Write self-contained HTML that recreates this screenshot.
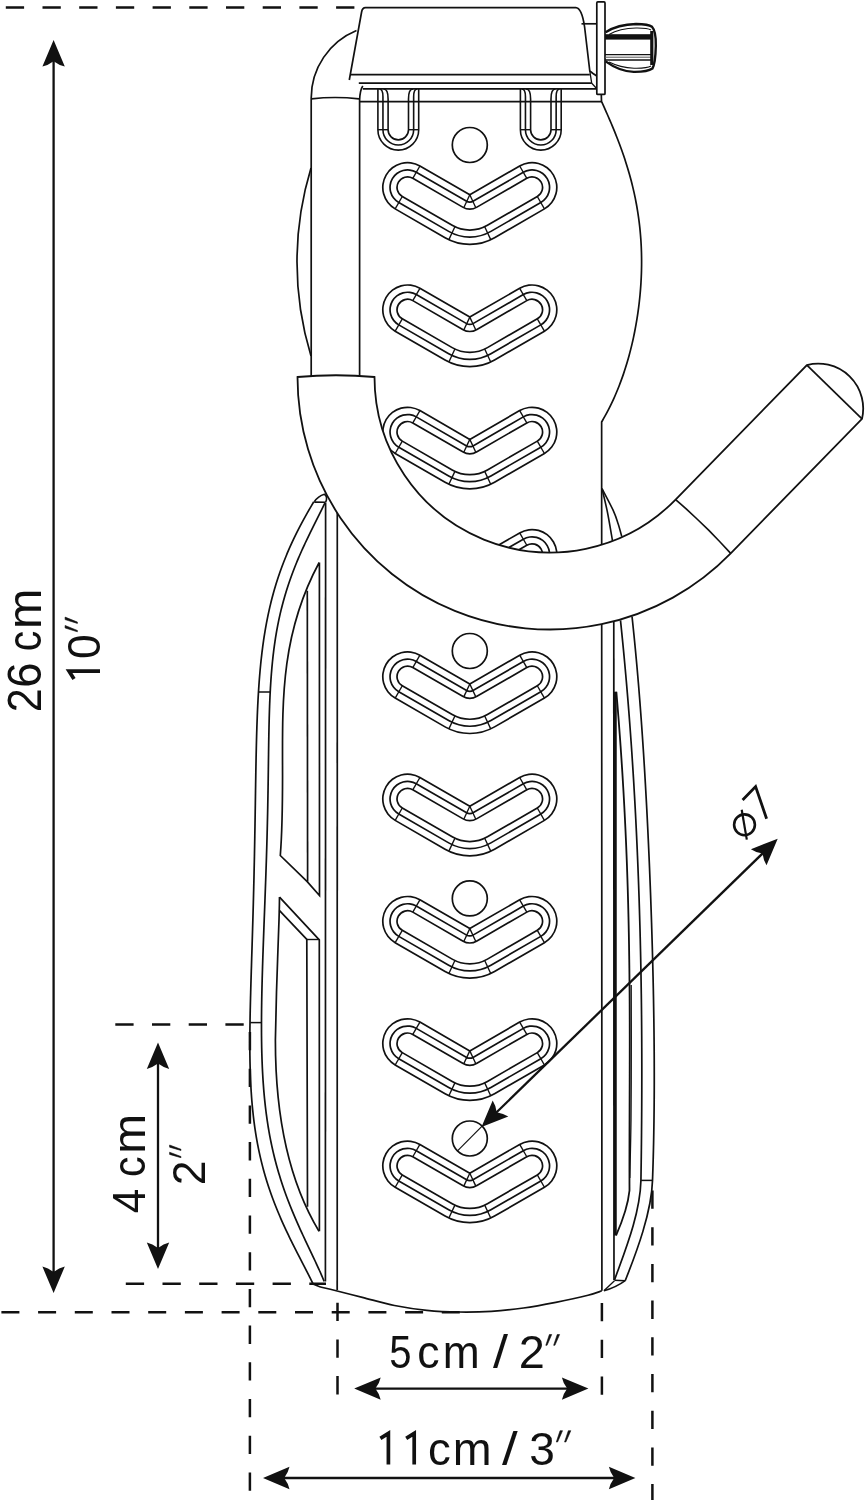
<!DOCTYPE html>
<html><head><meta charset="utf-8"><title>Bike hook dimensions</title>
<style>html,body{margin:0;padding:0;background:#fff;width:868px;height:1500px;overflow:hidden}svg{display:block}</style>
</head><body>
<svg width="868" height="1500" viewBox="0 0 868 1500">
<path d="M5.8 7.4L356 7.4" stroke="#111" stroke-width="2.5" stroke-dasharray="18.3 18.4" stroke-dashoffset="0"/>
<path d="M115.3 1024.4L252 1024.4" stroke="#111" stroke-width="2.5" stroke-dasharray="18.3 18.4" stroke-dashoffset="0"/>
<path d="M125.8 1283.8L326 1283.8" stroke="#111" stroke-width="2.5" stroke-dasharray="18.3 18.4" stroke-dashoffset="0"/>
<path d="M1.4 1312.3L460 1312.3" stroke="#111" stroke-width="2.5" stroke-dasharray="18 18.7" stroke-dashoffset="0"/>
<path d="M249.9 1032L249.9 1500" stroke="#111" stroke-width="2.5" stroke-dasharray="18.3 18.4" stroke-dashoffset="0"/>
<path d="M337.5 1302.7L337.5 1395" stroke="#111" stroke-width="2.5" stroke-dasharray="18.3 18.4" stroke-dashoffset="0"/>
<path d="M601.9 1303L601.9 1400" stroke="#111" stroke-width="2.5" stroke-dasharray="18.3 18.4" stroke-dashoffset="0"/>
<path d="M652.4 1190.5L652.4 1500" stroke="#111" stroke-width="2.5" stroke-dasharray="18.3 18.4" stroke-dashoffset="0"/>
<path d="M311 168 A322.6 322.6 0 0 0 311 356" fill="none" stroke="#111" stroke-width="1.7"/>
<path d="M601.3 94.4 L601.49 101.4 C601.95 102.41 603.33 105.43 604.23 107.45 C605.14 109.47 606.04 111.48 606.93 113.5 C607.82 115.51 608.71 117.53 609.58 119.55 C610.44 121.56 611.3 123.58 612.15 125.6 C612.99 127.61 613.83 129.63 614.64 131.65 C615.46 133.66 616.26 135.68 617.05 137.69 C617.84 139.71 618.61 141.73 619.37 143.74 C620.12 145.76 620.86 147.78 621.58 149.79 C622.3 151.81 623.01 153.83 623.69 155.84 C624.38 157.86 625.05 159.87 625.69 161.89 C626.34 163.91 626.97 165.92 627.58 167.94 C628.19 169.96 628.79 171.97 629.36 173.99 C629.93 176.01 630.48 178.02 631.01 180.04 C631.54 182.05 632.06 184.07 632.55 186.09 C633.04 188.1 633.51 190.12 633.96 192.14 C634.41 194.15 634.84 196.17 635.25 198.18 C635.66 200.2 636.05 202.22 636.42 204.23 C636.79 206.25 637.14 208.27 637.47 210.28 C637.8 212.3 638.11 214.32 638.39 216.33 C638.68 218.35 638.95 220.36 639.2 222.38 C639.45 224.4 639.68 226.41 639.89 228.43 C640.09 230.45 640.28 232.46 640.45 234.48 C640.62 236.5 640.77 238.51 640.91 240.53 C641.04 242.54 641.15 244.56 641.24 246.58 C641.34 248.59 641.41 250.61 641.47 252.63 C641.52 254.64 641.56 256.66 641.58 258.68 C641.6 260.69 641.6 262.71 641.59 264.72 C641.57 266.74 641.53 268.76 641.48 270.77 C641.43 272.79 641.36 274.81 641.27 276.82 C641.19 278.84 641.08 280.86 640.96 282.87 C640.84 284.89 640.7 286.9 640.54 288.92 C640.39 290.94 640.21 292.95 640.02 294.97 C639.83 296.99 639.63 299 639.4 301.02 C639.18 303.04 638.94 305.05 638.68 307.07 C638.42 309.08 638.15 311.1 637.86 313.12 C637.56 315.13 637.26 317.15 636.93 319.17 C636.6 321.18 636.26 323.2 635.9 325.22 C635.54 327.23 635.16 329.25 634.76 331.26 C634.37 333.28 633.95 335.3 633.52 337.31 C633.09 339.33 632.64 341.35 632.17 343.36 C631.7 345.38 631.21 347.39 630.7 349.41 C630.19 351.43 629.66 353.44 629.11 355.46 C628.56 357.48 628 359.49 627.4 361.51 C626.81 363.53 626.2 365.54 625.56 367.56 C624.93 369.57 624.27 371.59 623.59 373.61 C622.9 375.62 622.2 377.64 621.46 379.66 C620.73 381.67 619.97 383.69 619.19 385.71 C618.4 387.72 617.59 389.74 616.74 391.75 C615.9 393.77 615.03 395.79 614.13 397.8 C613.22 399.82 612.29 401.84 611.32 403.85 C610.35 405.87 609.35 407.89 608.32 409.9 C607.28 411.92 606.21 413.93 605.09 415.95 C603.98 417.97 602.21 420.99 601.64 422 L601.9 1290.8" fill="none" stroke="#111" stroke-width="1.7"/>
<path d="M356.5 30.5 A73.1 73.1 0 0 0 311.2 98 L311.2 377" fill="none" stroke="#111" stroke-width="1.7"/>
<path d="M359.6 100 L359.6 377" fill="none" stroke="#111" stroke-width="1.7"/>
<path d="M362.8 86 Q360 90 359.6 100" fill="none" stroke="#111" stroke-width="1.7"/>
<path d="M311.5 98.8 Q335 96.2 359 98.8" fill="none" stroke="#111" stroke-width="1.7"/>
<path d="M349.3 80 L361.6 12 Q362.4 7.6 365.5 7.6 L575.8 7.6 C580.5 7.8 583 16 584.6 27 L589.8 71 L593 73.5 L596.8 76" fill="none" stroke="#111" stroke-width="1.7"/>
<path d="M350.3 74.6 L589.8 74.6" fill="none" stroke="#111" stroke-width="1.7"/>
<path d="M358.8 83.1 L591.7 83.1" fill="none" stroke="#111" stroke-width="1.7"/>
<path d="M362.8 88.8 L596.8 88.8" fill="none" stroke="#111" stroke-width="1.7"/>
<path d="M360 101.7 L601.8 101.7" fill="none" stroke="#111" stroke-width="1.7"/>
<path d="M589.8 71 L591.7 83.1 L596.8 88.8" fill="none" stroke="#111" stroke-width="1.3"/>
<path d="M581.5 23.8 L596.8 23.8" fill="none" stroke="#111" stroke-width="1.7"/>
<rect x="596.8" y="1.9" width="8.2" height="92.5" rx="1" fill="#fff" stroke="#111" stroke-width="1.7"/>
<path d="M605.6 32.2 C613 27.5 623 24.3 636 24 C644 24 649.5 24.8 652 26.8 C655 30 656 38 655.8 46 C655.6 56 655 64 652.4 68.6 C649 71 642 72 633.7 71.9 C622 71.5 612 66 605.6 61.4" fill="none" stroke="#111" stroke-width="2.4"/>
<path d="M609 34.5 C616 30.5 625 28.3 636 28 C644 27.9 648.5 28.4 651 30" fill="none" stroke="#111" stroke-width="1.1"/>
<path d="M609 62 C616 65.5 625 67.8 634 68.2 C643 68.4 648 67.8 651 66" fill="none" stroke="#111" stroke-width="1.1"/>
<rect x="605" y="34.2" width="46.5" height="5.4" fill="#111"/>
<path d="M605 54.7 L651 54.7" fill="none" stroke="#111" stroke-width="1.3"/>
<path d="M605 57.2 L651 57.2" fill="none" stroke="#555" stroke-width="1"/>
<path d="M605 60 L651 60" fill="none" stroke="#111" stroke-width="1.3"/>
<rect x="650.2" y="31" width="3.2" height="34" fill="#111"/>
<path d="M377.9 89 L377.9 129.7 A20.4 20.4 0 0 0 418.7 129.7 L418.7 89" fill="none" stroke="#111" stroke-width="1.6"/>
<path d="M379.45 89 Q382.95 89 382.95 96.7 L382.95 129.7 A15.35 15.35 0 0 0 413.65 129.7 L413.65 96.7 Q413.65 89 417.15 89" fill="none" stroke="#111" stroke-width="1.6"/>
<path d="M383.6 89 Q388.1 89 388.1 98.9 L388.1 129.7 A10.2 10.2 0 0 0 408.5 129.7 L408.5 98.9 Q408.5 89 413 89" fill="none" stroke="#111" stroke-width="1.6"/>
<path d="M377.9 129.7L388.1 129.7" stroke="#111" stroke-width="1.4"/>
<path d="M408.5 129.7L418.7 129.7" stroke="#111" stroke-width="1.4"/>
<path d="M520.4 89 L520.4 129.7 A20.4 20.4 0 0 0 561.2 129.7 L561.2 89" fill="none" stroke="#111" stroke-width="1.6"/>
<path d="M521.95 89 Q525.45 89 525.45 96.7 L525.45 129.7 A15.35 15.35 0 0 0 556.15 129.7 L556.15 96.7 Q556.15 89 559.65 89" fill="none" stroke="#111" stroke-width="1.6"/>
<path d="M526.1 89 Q530.6 89 530.6 98.9 L530.6 129.7 A10.2 10.2 0 0 0 551 129.7 L551 98.9 Q551 89 555.5 89" fill="none" stroke="#111" stroke-width="1.6"/>
<path d="M520.4 129.7L530.6 129.7" stroke="#111" stroke-width="1.4"/>
<path d="M551 129.7L561.2 129.7" stroke="#111" stroke-width="1.4"/>
<circle cx="469.8" cy="145" r="17.5" fill="#fff" stroke="#111" stroke-width="1.7"/>
<circle cx="469.8" cy="651" r="17.5" fill="#fff" stroke="#111" stroke-width="1.7"/>
<circle cx="469.8" cy="898.4" r="17.5" fill="#fff" stroke="#111" stroke-width="1.7"/>
<circle cx="469.8" cy="1138.5" r="17.5" fill="#fff" stroke="#111" stroke-width="1.7"/>
<path d="M457.5 1150.8L482.1 1126.2" stroke="#111" stroke-width="1.2"/>
<path d="M407.54 187.43 L457.43 216.23 A24.75 24.75 0 0 0 482.18 216.23 L532.06 187.43" fill="none" stroke="#111" stroke-width="51.2" stroke-linecap="round"/>
<path d="M407.54 187.43 L457.43 216.23 A24.75 24.75 0 0 0 482.18 216.23 L532.06 187.43" fill="none" stroke="#fff" stroke-width="47.8" stroke-linecap="round"/>
<path d="M407.54 187.43 L457.43 216.23 A24.75 24.75 0 0 0 482.18 216.23 L532.06 187.43" fill="none" stroke="#111" stroke-width="36.7" stroke-linecap="round"/>
<path d="M407.54 187.43 L457.43 216.23 A24.75 24.75 0 0 0 482.18 216.23 L532.06 187.43" fill="none" stroke="#fff" stroke-width="33.3" stroke-linecap="round"/>
<path d="M407.54 187.43 L457.43 216.23 A24.75 24.75 0 0 0 482.18 216.23 L532.06 187.43" fill="none" stroke="#111" stroke-width="22.7" stroke-linecap="round"/>
<path d="M407.54 187.43 L457.43 216.23 A24.75 24.75 0 0 0 482.18 216.23 L532.06 187.43" fill="none" stroke="#fff" stroke-width="19.3" stroke-linecap="round"/>
<path d="M412.79 178.34L419.92 166" stroke="#111" stroke-width="1.35"/>
<path d="M402.29 196.53L395.17 208.87" stroke="#111" stroke-width="1.35"/>
<path d="M526.81 178.34L519.68 166" stroke="#111" stroke-width="1.35"/>
<path d="M537.31 196.53L544.43 208.87" stroke="#111" stroke-width="1.35"/>
<path d="M454.9 226.75L448.88 239.66" stroke="#111" stroke-width="1.35"/>
<path d="M469.8 194.8L463.78 207.71" stroke="#111" stroke-width="1.35"/>
<path d="M484.7 226.75L490.72 239.66" stroke="#111" stroke-width="1.35"/>
<path d="M469.8 194.8L475.82 207.71" stroke="#111" stroke-width="1.35"/>
<path d="M407.54 309.73 L457.43 338.53 A24.75 24.75 0 0 0 482.18 338.53 L532.06 309.73" fill="none" stroke="#111" stroke-width="51.2" stroke-linecap="round"/>
<path d="M407.54 309.73 L457.43 338.53 A24.75 24.75 0 0 0 482.18 338.53 L532.06 309.73" fill="none" stroke="#fff" stroke-width="47.8" stroke-linecap="round"/>
<path d="M407.54 309.73 L457.43 338.53 A24.75 24.75 0 0 0 482.18 338.53 L532.06 309.73" fill="none" stroke="#111" stroke-width="36.7" stroke-linecap="round"/>
<path d="M407.54 309.73 L457.43 338.53 A24.75 24.75 0 0 0 482.18 338.53 L532.06 309.73" fill="none" stroke="#fff" stroke-width="33.3" stroke-linecap="round"/>
<path d="M407.54 309.73 L457.43 338.53 A24.75 24.75 0 0 0 482.18 338.53 L532.06 309.73" fill="none" stroke="#111" stroke-width="22.7" stroke-linecap="round"/>
<path d="M407.54 309.73 L457.43 338.53 A24.75 24.75 0 0 0 482.18 338.53 L532.06 309.73" fill="none" stroke="#fff" stroke-width="19.3" stroke-linecap="round"/>
<path d="M412.79 300.64L419.92 288.3" stroke="#111" stroke-width="1.35"/>
<path d="M402.29 318.83L395.17 331.17" stroke="#111" stroke-width="1.35"/>
<path d="M526.81 300.64L519.68 288.3" stroke="#111" stroke-width="1.35"/>
<path d="M537.31 318.83L544.43 331.17" stroke="#111" stroke-width="1.35"/>
<path d="M454.9 349.05L448.88 361.96" stroke="#111" stroke-width="1.35"/>
<path d="M469.8 317.1L463.78 330.01" stroke="#111" stroke-width="1.35"/>
<path d="M484.7 349.05L490.72 361.96" stroke="#111" stroke-width="1.35"/>
<path d="M469.8 317.1L475.82 330.01" stroke="#111" stroke-width="1.35"/>
<path d="M407.54 432.03 L457.43 460.83 A24.75 24.75 0 0 0 482.18 460.83 L532.06 432.03" fill="none" stroke="#111" stroke-width="51.2" stroke-linecap="round"/>
<path d="M407.54 432.03 L457.43 460.83 A24.75 24.75 0 0 0 482.18 460.83 L532.06 432.03" fill="none" stroke="#fff" stroke-width="47.8" stroke-linecap="round"/>
<path d="M407.54 432.03 L457.43 460.83 A24.75 24.75 0 0 0 482.18 460.83 L532.06 432.03" fill="none" stroke="#111" stroke-width="36.7" stroke-linecap="round"/>
<path d="M407.54 432.03 L457.43 460.83 A24.75 24.75 0 0 0 482.18 460.83 L532.06 432.03" fill="none" stroke="#fff" stroke-width="33.3" stroke-linecap="round"/>
<path d="M407.54 432.03 L457.43 460.83 A24.75 24.75 0 0 0 482.18 460.83 L532.06 432.03" fill="none" stroke="#111" stroke-width="22.7" stroke-linecap="round"/>
<path d="M407.54 432.03 L457.43 460.83 A24.75 24.75 0 0 0 482.18 460.83 L532.06 432.03" fill="none" stroke="#fff" stroke-width="19.3" stroke-linecap="round"/>
<path d="M412.79 422.94L419.92 410.6" stroke="#111" stroke-width="1.35"/>
<path d="M402.29 441.13L395.17 453.47" stroke="#111" stroke-width="1.35"/>
<path d="M526.81 422.94L519.68 410.6" stroke="#111" stroke-width="1.35"/>
<path d="M537.31 441.13L544.43 453.47" stroke="#111" stroke-width="1.35"/>
<path d="M454.9 471.35L448.88 484.26" stroke="#111" stroke-width="1.35"/>
<path d="M469.8 439.4L463.78 452.31" stroke="#111" stroke-width="1.35"/>
<path d="M484.7 471.35L490.72 484.26" stroke="#111" stroke-width="1.35"/>
<path d="M469.8 439.4L475.82 452.31" stroke="#111" stroke-width="1.35"/>
<path d="M407.54 554.33 L457.43 583.13 A24.75 24.75 0 0 0 482.18 583.13 L532.06 554.33" fill="none" stroke="#111" stroke-width="51.2" stroke-linecap="round"/>
<path d="M407.54 554.33 L457.43 583.13 A24.75 24.75 0 0 0 482.18 583.13 L532.06 554.33" fill="none" stroke="#fff" stroke-width="47.8" stroke-linecap="round"/>
<path d="M407.54 554.33 L457.43 583.13 A24.75 24.75 0 0 0 482.18 583.13 L532.06 554.33" fill="none" stroke="#111" stroke-width="36.7" stroke-linecap="round"/>
<path d="M407.54 554.33 L457.43 583.13 A24.75 24.75 0 0 0 482.18 583.13 L532.06 554.33" fill="none" stroke="#fff" stroke-width="33.3" stroke-linecap="round"/>
<path d="M407.54 554.33 L457.43 583.13 A24.75 24.75 0 0 0 482.18 583.13 L532.06 554.33" fill="none" stroke="#111" stroke-width="22.7" stroke-linecap="round"/>
<path d="M407.54 554.33 L457.43 583.13 A24.75 24.75 0 0 0 482.18 583.13 L532.06 554.33" fill="none" stroke="#fff" stroke-width="19.3" stroke-linecap="round"/>
<path d="M412.79 545.24L419.92 532.9" stroke="#111" stroke-width="1.35"/>
<path d="M402.29 563.43L395.17 575.77" stroke="#111" stroke-width="1.35"/>
<path d="M526.81 545.24L519.68 532.9" stroke="#111" stroke-width="1.35"/>
<path d="M537.31 563.43L544.43 575.77" stroke="#111" stroke-width="1.35"/>
<path d="M454.9 593.65L448.88 606.56" stroke="#111" stroke-width="1.35"/>
<path d="M469.8 561.7L463.78 574.61" stroke="#111" stroke-width="1.35"/>
<path d="M484.7 593.65L490.72 606.56" stroke="#111" stroke-width="1.35"/>
<path d="M469.8 561.7L475.82 574.61" stroke="#111" stroke-width="1.35"/>
<path d="M407.54 676.63 L457.43 705.43 A24.75 24.75 0 0 0 482.18 705.43 L532.06 676.63" fill="none" stroke="#111" stroke-width="51.2" stroke-linecap="round"/>
<path d="M407.54 676.63 L457.43 705.43 A24.75 24.75 0 0 0 482.18 705.43 L532.06 676.63" fill="none" stroke="#fff" stroke-width="47.8" stroke-linecap="round"/>
<path d="M407.54 676.63 L457.43 705.43 A24.75 24.75 0 0 0 482.18 705.43 L532.06 676.63" fill="none" stroke="#111" stroke-width="36.7" stroke-linecap="round"/>
<path d="M407.54 676.63 L457.43 705.43 A24.75 24.75 0 0 0 482.18 705.43 L532.06 676.63" fill="none" stroke="#fff" stroke-width="33.3" stroke-linecap="round"/>
<path d="M407.54 676.63 L457.43 705.43 A24.75 24.75 0 0 0 482.18 705.43 L532.06 676.63" fill="none" stroke="#111" stroke-width="22.7" stroke-linecap="round"/>
<path d="M407.54 676.63 L457.43 705.43 A24.75 24.75 0 0 0 482.18 705.43 L532.06 676.63" fill="none" stroke="#fff" stroke-width="19.3" stroke-linecap="round"/>
<path d="M412.79 667.54L419.92 655.2" stroke="#111" stroke-width="1.35"/>
<path d="M402.29 685.73L395.17 698.07" stroke="#111" stroke-width="1.35"/>
<path d="M526.81 667.54L519.68 655.2" stroke="#111" stroke-width="1.35"/>
<path d="M537.31 685.73L544.43 698.07" stroke="#111" stroke-width="1.35"/>
<path d="M454.9 715.95L448.88 728.86" stroke="#111" stroke-width="1.35"/>
<path d="M469.8 684L463.78 696.91" stroke="#111" stroke-width="1.35"/>
<path d="M484.7 715.95L490.72 728.86" stroke="#111" stroke-width="1.35"/>
<path d="M469.8 684L475.82 696.91" stroke="#111" stroke-width="1.35"/>
<path d="M407.54 798.93 L457.43 827.73 A24.75 24.75 0 0 0 482.18 827.73 L532.06 798.93" fill="none" stroke="#111" stroke-width="51.2" stroke-linecap="round"/>
<path d="M407.54 798.93 L457.43 827.73 A24.75 24.75 0 0 0 482.18 827.73 L532.06 798.93" fill="none" stroke="#fff" stroke-width="47.8" stroke-linecap="round"/>
<path d="M407.54 798.93 L457.43 827.73 A24.75 24.75 0 0 0 482.18 827.73 L532.06 798.93" fill="none" stroke="#111" stroke-width="36.7" stroke-linecap="round"/>
<path d="M407.54 798.93 L457.43 827.73 A24.75 24.75 0 0 0 482.18 827.73 L532.06 798.93" fill="none" stroke="#fff" stroke-width="33.3" stroke-linecap="round"/>
<path d="M407.54 798.93 L457.43 827.73 A24.75 24.75 0 0 0 482.18 827.73 L532.06 798.93" fill="none" stroke="#111" stroke-width="22.7" stroke-linecap="round"/>
<path d="M407.54 798.93 L457.43 827.73 A24.75 24.75 0 0 0 482.18 827.73 L532.06 798.93" fill="none" stroke="#fff" stroke-width="19.3" stroke-linecap="round"/>
<path d="M412.79 789.84L419.92 777.5" stroke="#111" stroke-width="1.35"/>
<path d="M402.29 808.03L395.17 820.37" stroke="#111" stroke-width="1.35"/>
<path d="M526.81 789.84L519.68 777.5" stroke="#111" stroke-width="1.35"/>
<path d="M537.31 808.03L544.43 820.37" stroke="#111" stroke-width="1.35"/>
<path d="M454.9 838.25L448.88 851.16" stroke="#111" stroke-width="1.35"/>
<path d="M469.8 806.3L463.78 819.21" stroke="#111" stroke-width="1.35"/>
<path d="M484.7 838.25L490.72 851.16" stroke="#111" stroke-width="1.35"/>
<path d="M469.8 806.3L475.82 819.21" stroke="#111" stroke-width="1.35"/>
<path d="M407.54 921.23 L457.43 950.03 A24.75 24.75 0 0 0 482.18 950.03 L532.06 921.23" fill="none" stroke="#111" stroke-width="51.2" stroke-linecap="round"/>
<path d="M407.54 921.23 L457.43 950.03 A24.75 24.75 0 0 0 482.18 950.03 L532.06 921.23" fill="none" stroke="#fff" stroke-width="47.8" stroke-linecap="round"/>
<path d="M407.54 921.23 L457.43 950.03 A24.75 24.75 0 0 0 482.18 950.03 L532.06 921.23" fill="none" stroke="#111" stroke-width="36.7" stroke-linecap="round"/>
<path d="M407.54 921.23 L457.43 950.03 A24.75 24.75 0 0 0 482.18 950.03 L532.06 921.23" fill="none" stroke="#fff" stroke-width="33.3" stroke-linecap="round"/>
<path d="M407.54 921.23 L457.43 950.03 A24.75 24.75 0 0 0 482.18 950.03 L532.06 921.23" fill="none" stroke="#111" stroke-width="22.7" stroke-linecap="round"/>
<path d="M407.54 921.23 L457.43 950.03 A24.75 24.75 0 0 0 482.18 950.03 L532.06 921.23" fill="none" stroke="#fff" stroke-width="19.3" stroke-linecap="round"/>
<path d="M412.79 912.14L419.92 899.8" stroke="#111" stroke-width="1.35"/>
<path d="M402.29 930.33L395.17 942.67" stroke="#111" stroke-width="1.35"/>
<path d="M526.81 912.14L519.68 899.8" stroke="#111" stroke-width="1.35"/>
<path d="M537.31 930.33L544.43 942.67" stroke="#111" stroke-width="1.35"/>
<path d="M454.9 960.55L448.88 973.46" stroke="#111" stroke-width="1.35"/>
<path d="M469.8 928.6L463.78 941.51" stroke="#111" stroke-width="1.35"/>
<path d="M484.7 960.55L490.72 973.46" stroke="#111" stroke-width="1.35"/>
<path d="M469.8 928.6L475.82 941.51" stroke="#111" stroke-width="1.35"/>
<path d="M407.54 1043.53 L457.43 1072.33 A24.75 24.75 0 0 0 482.18 1072.33 L532.06 1043.53" fill="none" stroke="#111" stroke-width="51.2" stroke-linecap="round"/>
<path d="M407.54 1043.53 L457.43 1072.33 A24.75 24.75 0 0 0 482.18 1072.33 L532.06 1043.53" fill="none" stroke="#fff" stroke-width="47.8" stroke-linecap="round"/>
<path d="M407.54 1043.53 L457.43 1072.33 A24.75 24.75 0 0 0 482.18 1072.33 L532.06 1043.53" fill="none" stroke="#111" stroke-width="36.7" stroke-linecap="round"/>
<path d="M407.54 1043.53 L457.43 1072.33 A24.75 24.75 0 0 0 482.18 1072.33 L532.06 1043.53" fill="none" stroke="#fff" stroke-width="33.3" stroke-linecap="round"/>
<path d="M407.54 1043.53 L457.43 1072.33 A24.75 24.75 0 0 0 482.18 1072.33 L532.06 1043.53" fill="none" stroke="#111" stroke-width="22.7" stroke-linecap="round"/>
<path d="M407.54 1043.53 L457.43 1072.33 A24.75 24.75 0 0 0 482.18 1072.33 L532.06 1043.53" fill="none" stroke="#fff" stroke-width="19.3" stroke-linecap="round"/>
<path d="M412.79 1034.44L419.92 1022.1" stroke="#111" stroke-width="1.35"/>
<path d="M402.29 1052.63L395.17 1064.97" stroke="#111" stroke-width="1.35"/>
<path d="M526.81 1034.44L519.68 1022.1" stroke="#111" stroke-width="1.35"/>
<path d="M537.31 1052.63L544.43 1064.97" stroke="#111" stroke-width="1.35"/>
<path d="M454.9 1082.85L448.88 1095.76" stroke="#111" stroke-width="1.35"/>
<path d="M469.8 1050.9L463.78 1063.81" stroke="#111" stroke-width="1.35"/>
<path d="M484.7 1082.85L490.72 1095.76" stroke="#111" stroke-width="1.35"/>
<path d="M469.8 1050.9L475.82 1063.81" stroke="#111" stroke-width="1.35"/>
<path d="M407.54 1165.83 L457.43 1194.63 A24.75 24.75 0 0 0 482.18 1194.63 L532.06 1165.83" fill="none" stroke="#111" stroke-width="51.2" stroke-linecap="round"/>
<path d="M407.54 1165.83 L457.43 1194.63 A24.75 24.75 0 0 0 482.18 1194.63 L532.06 1165.83" fill="none" stroke="#fff" stroke-width="47.8" stroke-linecap="round"/>
<path d="M407.54 1165.83 L457.43 1194.63 A24.75 24.75 0 0 0 482.18 1194.63 L532.06 1165.83" fill="none" stroke="#111" stroke-width="36.7" stroke-linecap="round"/>
<path d="M407.54 1165.83 L457.43 1194.63 A24.75 24.75 0 0 0 482.18 1194.63 L532.06 1165.83" fill="none" stroke="#fff" stroke-width="33.3" stroke-linecap="round"/>
<path d="M407.54 1165.83 L457.43 1194.63 A24.75 24.75 0 0 0 482.18 1194.63 L532.06 1165.83" fill="none" stroke="#111" stroke-width="22.7" stroke-linecap="round"/>
<path d="M407.54 1165.83 L457.43 1194.63 A24.75 24.75 0 0 0 482.18 1194.63 L532.06 1165.83" fill="none" stroke="#fff" stroke-width="19.3" stroke-linecap="round"/>
<path d="M412.79 1156.74L419.92 1144.4" stroke="#111" stroke-width="1.35"/>
<path d="M402.29 1174.93L395.17 1187.27" stroke="#111" stroke-width="1.35"/>
<path d="M526.81 1156.74L519.68 1144.4" stroke="#111" stroke-width="1.35"/>
<path d="M537.31 1174.93L544.43 1187.27" stroke="#111" stroke-width="1.35"/>
<path d="M454.9 1205.15L448.88 1218.06" stroke="#111" stroke-width="1.35"/>
<path d="M469.8 1173.2L463.78 1186.11" stroke="#111" stroke-width="1.35"/>
<path d="M484.7 1205.15L490.72 1218.06" stroke="#111" stroke-width="1.35"/>
<path d="M469.8 1173.2L475.82 1186.11" stroke="#111" stroke-width="1.35"/>
<path d="M325.6 502.9L325.4 1281.5" stroke="#111" stroke-width="1.7"/>
<path d="M337.3 505L337.2 1290" stroke="#111" stroke-width="1.7"/>
<path d="M313.76 501.8 C313.17 502.8 311.38 505.81 310.21 507.82 C309.04 509.82 307.89 511.83 306.76 513.83 C305.63 515.84 304.52 517.85 303.43 519.85 C302.34 521.86 301.27 523.86 300.22 525.87 C299.17 527.87 298.14 529.88 297.13 531.88 C296.12 533.89 295.14 535.9 294.18 537.9 C293.22 539.91 292.28 541.91 291.36 543.92 C290.44 545.92 289.55 547.93 288.68 549.94 C287.81 551.94 286.96 553.95 286.14 555.95 C285.31 557.96 284.51 559.96 283.73 561.97 C282.95 563.97 282.19 565.98 281.46 567.99 C280.73 569.99 280.01 572 279.32 574 C278.63 576.01 277.97 578.01 277.32 580.02 C276.67 582.03 276.05 584.03 275.45 586.04 C274.84 588.04 274.26 590.05 273.69 592.05 C273.13 594.06 272.59 596.07 272.06 598.07 C271.54 600.08 271.04 602.08 270.55 604.09 C270.06 606.09 269.6 608.1 269.15 610.1 C268.7 612.11 268.26 614.12 267.85 616.12 C267.43 618.13 267.04 620.13 266.65 622.14 C266.27 624.14 265.91 626.15 265.55 628.16 C265.2 630.16 264.87 632.17 264.55 634.17 C264.22 636.18 263.92 638.18 263.62 640.19 C263.33 642.19 263.05 644.2 262.78 646.21 C262.51 648.21 262.26 650.22 262.01 652.22 C261.77 654.23 261.54 656.23 261.32 658.24 C261.09 660.25 260.88 662.25 260.68 664.26 C260.48 666.26 260.29 668.27 260.11 670.27 C259.93 672.28 259.76 674.29 259.6 676.29 C259.43 678.3 259.28 680.3 259.13 682.31 C258.98 684.31 258.84 686.32 258.71 688.32 C258.58 690.33 258.46 692.34 258.34 694.34 C258.22 696.35 258.11 698.35 258 700.36 C257.89 702.36 257.79 704.37 257.7 706.38 C257.6 708.38 257.51 710.39 257.43 712.39 C257.34 714.4 257.26 716.4 257.19 718.41 C257.11 720.41 257.04 722.42 256.97 724.43 C256.9 726.43 256.84 728.44 256.78 730.44 C256.71 732.45 256.66 734.45 256.6 736.46 C256.55 738.47 256.49 740.47 256.44 742.48 C256.39 744.48 256.34 746.49 256.3 748.49 C256.25 750.5 256.21 752.51 256.17 754.51 C256.12 756.52 256.08 758.52 256.05 760.53 C256.01 762.53 255.97 764.54 255.93 766.54 C255.9 768.55 255.86 770.56 255.83 772.56 C255.79 774.57 255.76 776.57 255.73 778.58 C255.69 780.58 255.66 782.59 255.63 784.6 C255.6 786.6 255.57 788.61 255.53 790.61 C255.5 792.62 255.47 794.62 255.44 796.63 C255.41 798.63 255.38 800.64 255.35 802.65 C255.32 804.65 255.29 806.66 255.26 808.66 C255.22 810.67 255.19 812.67 255.16 814.68 C255.13 816.69 255.1 818.69 255.07 820.7 C255.03 822.7 255 824.71 254.97 826.71 C254.93 828.72 254.9 830.73 254.86 832.73 C254.83 834.74 254.79 836.74 254.76 838.75 C254.72 840.75 254.69 842.76 254.65 844.76 C254.61 846.77 254.57 848.78 254.53 850.78 C254.5 852.79 254.46 854.79 254.42 856.8 C254.38 858.8 254.33 860.81 254.29 862.82 C254.25 864.82 254.21 866.83 254.16 868.83 C254.12 870.84 254.07 872.84 254.03 874.85 C253.98 876.85 253.94 878.86 253.89 880.87 C253.84 882.87 253.79 884.88 253.74 886.88 C253.7 888.89 253.65 890.89 253.59 892.9 C253.54 894.91 253.49 896.91 253.44 898.92 C253.39 900.92 253.33 902.93 253.28 904.93 C253.22 906.94 253.17 908.95 253.11 910.95 C253.06 912.96 253 914.96 252.94 916.97 C252.89 918.97 252.83 920.98 252.77 922.98 C252.71 924.99 252.65 927 252.59 929 C252.53 931.01 252.47 933.01 252.41 935.02 C252.35 937.02 252.29 939.03 252.23 941.04 C252.16 943.04 252.1 945.05 252.04 947.05 C251.98 949.06 251.91 951.06 251.85 953.07 C251.79 955.07 251.73 957.08 251.66 959.09 C251.6 961.09 251.54 963.1 251.48 965.1 C251.42 967.11 251.35 969.11 251.29 971.12 C251.23 973.13 251.17 975.13 251.11 977.14 C251.05 979.14 250.99 981.15 250.93 983.15 C250.88 985.16 250.82 987.17 250.76 989.17 C250.71 991.18 250.65 993.18 250.6 995.19 C250.55 997.19 250.49 999.2 250.44 1001.2 C250.4 1003.21 250.35 1005.22 250.3 1007.22 C250.26 1009.23 250.21 1011.23 250.17 1013.24 C250.13 1015.24 250.1 1017.25 250.06 1019.26 C250.03 1021.26 250 1023.27 249.97 1025.27 C249.94 1027.28 249.92 1029.28 249.9 1031.29 C249.88 1033.29 249.87 1035.3 249.86 1037.31 C249.85 1039.31 249.84 1041.32 249.84 1043.32 C249.84 1045.33 249.84 1047.33 249.85 1049.34 C249.86 1051.35 249.88 1053.35 249.9 1055.36 C249.93 1057.36 249.96 1059.37 249.99 1061.37 C250.03 1063.38 250.07 1065.39 250.13 1067.39 C250.18 1069.4 250.24 1071.4 250.31 1073.41 C250.38 1075.41 250.45 1077.42 250.54 1079.42 C250.63 1081.43 250.72 1083.44 250.83 1085.44 C250.93 1087.45 251.05 1089.45 251.18 1091.46 C251.3 1093.46 251.44 1095.47 251.59 1097.48 C251.74 1099.48 251.9 1101.49 252.08 1103.49 C252.25 1105.5 252.44 1107.5 252.64 1109.51 C252.84 1111.51 253.05 1113.52 253.28 1115.53 C253.51 1117.53 253.75 1119.54 254.01 1121.54 C254.26 1123.55 254.54 1125.55 254.82 1127.56 C255.11 1129.57 255.42 1131.57 255.74 1133.58 C256.06 1135.58 256.39 1137.59 256.75 1139.59 C257.1 1141.6 257.47 1143.61 257.87 1145.61 C258.26 1147.62 258.66 1149.62 259.09 1151.63 C259.52 1153.63 259.96 1155.64 260.43 1157.64 C260.89 1159.65 261.38 1161.66 261.88 1163.66 C262.39 1165.67 262.91 1167.67 263.46 1169.68 C264 1171.68 264.57 1173.69 265.15 1175.7 C265.74 1177.7 266.34 1179.71 266.97 1181.71 C267.6 1183.72 268.25 1185.72 268.92 1187.73 C269.59 1189.73 270.28 1191.74 270.99 1193.75 C271.7 1195.75 272.43 1197.76 273.18 1199.76 C273.93 1201.77 274.7 1203.77 275.5 1205.78 C276.29 1207.79 277.1 1209.79 277.93 1211.8 C278.77 1213.8 279.62 1215.81 280.49 1217.81 C281.36 1219.82 282.24 1221.83 283.15 1223.83 C284.05 1225.84 284.98 1227.84 285.91 1229.85 C286.85 1231.85 287.8 1233.86 288.77 1235.86 C289.74 1237.87 290.72 1239.88 291.71 1241.88 C292.7 1243.89 293.7 1245.89 294.72 1247.9 C295.73 1249.9 296.75 1251.91 297.77 1253.92 C298.8 1255.92 299.83 1257.93 300.87 1259.93 C301.9 1261.94 302.94 1263.94 303.97 1265.95 C305 1267.95 306.03 1269.96 307.06 1271.97 C308.08 1273.97 309.1 1275.98 310.1 1277.98 C311.11 1279.99 312.58 1283 313.08 1284" fill="none" stroke="#111" stroke-width="1.7"/>
<path d="M325.12 502.6 C324.63 503.6 323.17 506.59 322.18 508.59 C321.19 510.59 320.19 512.58 319.19 514.58 C318.19 516.58 317.19 518.57 316.19 520.57 C315.19 522.57 314.19 524.56 313.2 526.56 C312.21 528.56 311.22 530.55 310.24 532.55 C309.27 534.55 308.3 536.54 307.35 538.54 C306.39 540.54 305.45 542.53 304.52 544.53 C303.6 546.53 302.69 548.52 301.79 550.52 C300.9 552.52 300.02 554.51 299.16 556.51 C298.31 558.51 297.46 560.5 296.64 562.5 C295.82 564.5 295.02 566.49 294.24 568.49 C293.46 570.49 292.7 572.48 291.97 574.48 C291.23 576.48 290.51 578.47 289.82 580.47 C289.12 582.47 288.45 584.46 287.79 586.46 C287.14 588.46 286.51 590.45 285.9 592.45 C285.29 594.45 284.71 596.44 284.14 598.44 C283.57 600.44 283.03 602.43 282.5 604.43 C281.98 606.43 281.47 608.42 280.99 610.42 C280.5 612.42 280.04 614.41 279.6 616.41 C279.15 618.41 278.73 620.4 278.32 622.4 C277.91 624.4 277.53 626.39 277.16 628.39 C276.78 630.39 276.43 632.38 276.1 634.38 C275.76 636.38 275.44 638.37 275.14 640.37 C274.84 642.37 274.55 644.36 274.28 646.36 C274.01 648.36 273.75 650.35 273.51 652.35 C273.26 654.35 273.03 656.34 272.82 658.34 C272.6 660.34 272.4 662.33 272.21 664.33 C272.01 666.33 271.84 668.32 271.67 670.32 C271.5 672.32 271.34 674.31 271.19 676.31 C271.04 678.31 270.9 680.3 270.78 682.3 C270.65 684.3 270.53 686.29 270.41 688.29 C270.3 690.29 270.2 692.28 270.1 694.28 C270 696.28 269.91 698.27 269.83 700.27 C269.74 702.27 269.67 704.26 269.59 706.26 C269.52 708.26 269.45 710.25 269.39 712.25 C269.33 714.25 269.27 716.24 269.22 718.24 C269.17 720.24 269.12 722.23 269.07 724.23 C269.02 726.23 268.98 728.22 268.94 730.22 C268.9 732.22 268.86 734.21 268.83 736.21 C268.79 738.21 268.76 740.2 268.72 742.2 C268.69 744.2 268.66 746.19 268.63 748.19 C268.6 750.19 268.57 752.18 268.55 754.18 C268.52 756.18 268.49 758.17 268.46 760.17 C268.44 762.17 268.41 764.16 268.38 766.16 C268.36 768.16 268.33 770.15 268.3 772.15 C268.27 774.15 268.25 776.14 268.22 778.14 C268.19 780.14 268.16 782.13 268.13 784.13 C268.1 786.13 268.07 788.12 268.04 790.12 C268.01 792.12 267.97 794.11 267.94 796.11 C267.9 798.11 267.87 800.1 267.83 802.1 C267.8 804.1 267.76 806.09 267.72 808.09 C267.68 810.09 267.64 812.08 267.6 814.08 C267.55 816.08 267.51 818.07 267.46 820.07 C267.42 822.07 267.37 824.06 267.32 826.06 C267.28 828.06 267.23 830.05 267.17 832.05 C267.12 834.05 267.07 836.04 267.02 838.04 C266.96 840.04 266.91 842.03 266.85 844.03 C266.79 846.03 266.73 848.02 266.67 850.02 C266.61 852.02 266.55 854.01 266.49 856.01 C266.43 858.01 266.36 860 266.3 862 C266.23 864 266.17 865.99 266.1 867.99 C266.03 869.99 265.97 871.98 265.9 873.98 C265.83 875.98 265.76 877.97 265.69 879.97 C265.62 881.97 265.54 883.96 265.47 885.96 C265.4 887.96 265.33 889.95 265.25 891.95 C265.18 893.95 265.11 895.94 265.03 897.94 C264.96 899.94 264.88 901.93 264.81 903.93 C264.73 905.93 264.66 907.92 264.58 909.92 C264.51 911.92 264.43 913.91 264.35 915.91 C264.28 917.91 264.2 919.9 264.13 921.9 C264.05 923.9 263.98 925.89 263.9 927.89 C263.83 929.89 263.75 931.88 263.68 933.88 C263.61 935.88 263.53 937.87 263.46 939.87 C263.39 941.87 263.32 943.86 263.25 945.86 C263.17 947.86 263.1 949.85 263.04 951.85 C262.97 953.85 262.9 955.84 262.83 957.84 C262.77 959.84 262.7 961.83 262.64 963.83 C262.58 965.83 262.51 967.82 262.46 969.82 C262.4 971.82 262.34 973.81 262.28 975.81 C262.23 977.81 262.17 979.8 262.12 981.8 C262.07 983.8 262.02 985.79 261.97 987.79 C261.93 989.79 261.88 991.78 261.84 993.78 C261.8 995.78 261.76 997.77 261.73 999.77 C261.69 1001.77 261.66 1003.76 261.63 1005.76 C261.6 1007.76 261.58 1009.75 261.56 1011.75 C261.54 1013.75 261.52 1015.74 261.51 1017.74 C261.49 1019.74 261.49 1021.73 261.48 1023.73 C261.48 1025.73 261.48 1027.72 261.49 1029.72 C261.49 1031.72 261.5 1033.71 261.52 1035.71 C261.54 1037.71 261.56 1039.7 261.59 1041.7 C261.62 1043.7 261.65 1045.69 261.69 1047.69 C261.73 1049.69 261.78 1051.68 261.84 1053.68 C261.89 1055.68 261.96 1057.67 262.03 1059.67 C262.1 1061.67 262.17 1063.66 262.26 1065.66 C262.35 1067.66 262.44 1069.65 262.54 1071.65 C262.65 1073.65 262.76 1075.64 262.88 1077.64 C263 1079.64 263.13 1081.63 263.28 1083.63 C263.42 1085.63 263.57 1087.62 263.73 1089.62 C263.89 1091.62 264.07 1093.61 264.25 1095.61 C264.44 1097.61 264.64 1099.6 264.85 1101.6 C265.05 1103.6 265.28 1105.59 265.51 1107.59 C265.75 1109.59 265.99 1111.58 266.25 1113.58 C266.52 1115.58 266.79 1117.57 267.08 1119.57 C267.37 1121.57 267.67 1123.56 267.99 1125.56 C268.31 1127.56 268.65 1129.55 269 1131.55 C269.35 1133.55 269.71 1135.54 270.1 1137.54 C270.48 1139.54 270.88 1141.53 271.29 1143.53 C271.71 1145.53 272.14 1147.52 272.59 1149.52 C273.04 1151.52 273.51 1153.51 273.99 1155.51 C274.48 1157.51 274.98 1159.5 275.51 1161.5 C276.03 1163.5 276.57 1165.49 277.13 1167.49 C277.69 1169.49 278.27 1171.48 278.86 1173.48 C279.46 1175.48 280.08 1177.47 280.71 1179.47 C281.35 1181.47 282 1183.46 282.67 1185.46 C283.34 1187.46 284.03 1189.45 284.74 1191.45 C285.45 1193.45 286.18 1195.44 286.93 1197.44 C287.67 1199.44 288.44 1201.43 289.22 1203.43 C290 1205.43 290.8 1207.42 291.61 1209.42 C292.43 1211.42 293.26 1213.41 294.11 1215.41 C294.95 1217.41 295.81 1219.4 296.69 1221.4 C297.56 1223.4 298.45 1225.39 299.35 1227.39 C300.25 1229.39 301.16 1231.38 302.08 1233.38 C303 1235.38 303.93 1237.37 304.87 1239.37 C305.8 1241.37 306.75 1243.36 307.69 1245.36 C308.64 1247.36 309.59 1249.35 310.54 1251.35 C311.48 1253.35 312.44 1255.34 313.38 1257.34 C314.32 1259.34 315.26 1261.33 316.19 1263.33 C317.12 1265.33 318.05 1267.32 318.95 1269.32 C319.85 1271.32 320.75 1273.31 321.62 1275.31 C322.48 1277.31 323.73 1280.3 324.16 1281.3" fill="none" stroke="#111" stroke-width="1.7"/>
<path d="M258.3 692L270.7 692" stroke="#111" stroke-width="1.5"/>
<path d="M250.2 1022.6L261.4 1022.6" stroke="#111" stroke-width="1.5"/>
<path d="M314.3 501.8 C316.5 498.5 320 495.6 324.4 494.3 C326.6 495.6 327.2 498.6 325.6 502.4" fill="none" stroke="#111" stroke-width="1.6"/>
<path d="M314.3 502.1L325.6 502.3" stroke="#111" stroke-width="1.6"/>
<path d="M319.2 562.5 C266.73 659.9 288.77 747.96 280.3 855.5 L307.2 881.6 L319.5 895.5 L319.4 562.5" fill="none" stroke="#111" stroke-width="1.7"/>
<path d="M307.3 590.8L307.6 881.6" stroke="#111" stroke-width="1.7"/>
<path d="M279.5 897.1 L319.3 939.8 L319.4 1231.3" fill="none" stroke="#111" stroke-width="1.7"/>
<path d="M279.5 897.1 C279.42 900.92 279.5 904.18 279 920 C278.5 935.82 277.1 972 276.5 992 C275.9 1012 275.58 1032 275.4 1040 C275.3 1115 288 1180 319 1231.3" fill="none" stroke="#111" stroke-width="1.7"/>
<path d="M279.3 910.4 L306.8 939.4 L307.5 1206.7" fill="none" stroke="#111" stroke-width="1.7"/>
<path d="M306.8 939.5L319.3 939.5" stroke="#111" stroke-width="1.4"/>
<path d="M602 488.6 C602.9 492.5 605.65 503.3 607.4 512 C609.15 520.7 611.65 536 612.5 540.8" fill="none" stroke="#111" stroke-width="1.6"/>
<path d="M602 488.6 C603.9 492.3 610.7 504.9 613.4 510.8 C616.1 516.7 616.8 519.7 618.2 524 C619.6 528.3 621.2 534.5 621.8 536.6" fill="none" stroke="#111" stroke-width="1.6"/>
<path d="M613.8 622L614 1280" stroke="#111" stroke-width="1.7"/>
<path d="M616.36 691.8 C616.44 692.8 616.69 695.81 616.86 697.81 C617.03 699.81 617.19 701.81 617.36 703.82 C617.52 705.82 617.68 707.82 617.84 709.83 C618 711.83 618.16 713.83 618.32 715.83 C618.48 717.84 618.63 719.84 618.79 721.84 C618.94 723.84 619.09 725.85 619.24 727.85 C619.39 729.85 619.54 731.86 619.69 733.86 C619.84 735.86 619.98 737.86 620.13 739.87 C620.27 741.87 620.42 743.87 620.56 745.88 C620.7 747.88 620.84 749.88 620.97 751.88 C621.11 753.89 621.25 755.89 621.38 757.89 C621.52 759.9 621.65 761.9 621.78 763.9 C621.91 765.9 622.04 767.91 622.17 769.91 C622.3 771.91 622.42 773.92 622.55 775.92 C622.67 777.92 622.79 779.92 622.91 781.93 C623.03 783.93 623.15 785.93 623.27 787.93 C623.39 789.94 623.5 791.94 623.62 793.94 C623.73 795.95 623.84 797.95 623.95 799.95 C624.06 801.95 624.17 803.96 624.28 805.96 C624.38 807.96 624.49 809.97 624.59 811.97 C624.7 813.97 624.8 815.97 624.9 817.98 C625 819.98 625.1 821.98 625.19 823.99 C625.29 825.99 625.38 827.99 625.48 829.99 C625.57 832 625.66 834 625.75 836 C625.84 838.01 625.93 840.01 626.02 842.01 C626.1 844.01 626.19 846.02 626.27 848.02 C626.35 850.02 626.43 852.02 626.51 854.03 C626.59 856.03 626.67 858.03 626.75 860.04 C626.82 862.04 626.9 864.04 626.97 866.04 C627.04 868.05 627.11 870.05 627.18 872.05 C627.25 874.06 627.32 876.06 627.39 878.06 C627.45 880.06 627.52 882.07 627.58 884.07 C627.65 886.07 627.71 888.08 627.77 890.08 C627.83 892.08 627.88 894.08 627.94 896.09 C628 898.09 628.05 900.09 628.11 902.1 C628.16 904.1 628.21 906.1 628.26 908.1 C628.31 910.11 628.36 912.11 628.41 914.11 C628.46 916.11 628.5 918.12 628.55 920.12 C628.59 922.12 628.64 924.13 628.68 926.13 C628.72 928.13 628.76 930.13 628.8 932.14 C628.84 934.14 628.88 936.14 628.91 938.15 C628.95 940.15 628.98 942.15 629.02 944.15 C629.05 946.16 629.08 948.16 629.11 950.16 C629.14 952.17 629.17 954.17 629.2 956.17 C629.23 958.17 629.26 960.18 629.28 962.18 C629.31 964.18 629.33 966.19 629.36 968.19 C629.38 970.19 629.4 972.19 629.42 974.2 C629.44 976.2 629.46 978.2 629.48 980.2 C629.5 982.21 629.52 984.21 629.53 986.21 C629.55 988.22 629.56 990.22 629.58 992.22 C629.59 994.22 629.6 996.23 629.62 998.23 C629.63 1000.23 629.64 1002.24 629.65 1004.24 C629.66 1006.24 629.67 1008.24 629.68 1010.25 C629.69 1012.25 629.69 1014.25 629.7 1016.26 C629.71 1018.26 629.71 1020.26 629.72 1022.26 C629.72 1024.27 629.72 1026.27 629.73 1028.27 C629.73 1030.28 629.73 1032.28 629.74 1034.28 C629.74 1036.28 629.74 1038.29 629.74 1040.29 C629.74 1042.29 629.74 1044.29 629.74 1046.3 C629.74 1048.3 629.73 1050.3 629.73 1052.31 C629.73 1054.31 629.73 1056.31 629.73 1058.31 C629.72 1060.32 629.72 1062.32 629.71 1064.32 C629.71 1066.33 629.71 1068.33 629.7 1070.33 C629.7 1072.33 629.69 1074.34 629.69 1076.34 C629.68 1078.34 629.67 1080.35 629.67 1082.35 C629.66 1084.35 629.66 1086.35 629.65 1088.36 C629.64 1090.36 629.64 1092.36 629.63 1094.37 C629.62 1096.37 629.61 1098.37 629.61 1100.37 C629.6 1102.38 629.59 1104.38 629.59 1106.38 C629.58 1108.38 629.57 1110.39 629.57 1112.39 C629.56 1114.39 629.55 1116.4 629.55 1118.4 C629.54 1120.4 629.53 1122.4 629.53 1124.41 C629.52 1126.41 629.51 1128.41 629.51 1130.42 C629.5 1132.42 629.5 1134.42 629.49 1136.42 C629.49 1138.43 629.48 1140.43 629.48 1142.43 C629.47 1144.44 629.47 1146.44 629.47 1148.44 C629.46 1150.44 629.46 1152.45 629.46 1154.45 C629.46 1156.45 629.45 1158.46 629.45 1160.46 C629.45 1162.46 629.45 1164.46 629.45 1166.47 C629.45 1168.47 629.45 1170.47 629.46 1172.47 C629.46 1174.48 629.46 1176.48 629.47 1178.48 C629.47 1180.49 629.48 1182.49 629.48 1184.49 C629.49 1186.49 629.5 1189.5 629.5 1190.5 C628 1205 622 1222 616.1 1235.3" fill="none" stroke="#111" stroke-width="1.8"/>
<path d="M615.3 691.8L615.3 1235.5" stroke="#111" stroke-width="2.9"/>
<path d="M631.2 985 C631.22 994.17 631.33 1017.5 631.3 1040 C631.27 1062.5 631.25 1097 631 1120 C630.75 1143 630 1168.33 629.8 1178" fill="none" stroke="#111" stroke-width="1.3"/>
<path d="M620.49 620.3 C620.6 621.3 620.91 624.32 621.12 626.32 C621.32 628.33 621.53 630.34 621.73 632.35 C621.93 634.35 622.13 636.36 622.33 638.37 C622.53 640.38 622.73 642.38 622.93 644.39 C623.12 646.4 623.32 648.41 623.51 650.41 C623.7 652.42 623.89 654.43 624.08 656.44 C624.27 658.44 624.45 660.45 624.64 662.46 C624.82 664.47 625.01 666.47 625.19 668.48 C625.37 670.49 625.55 672.5 625.73 674.5 C625.91 676.51 626.09 678.52 626.26 680.53 C626.43 682.53 626.61 684.54 626.78 686.55 C626.95 688.56 627.12 690.56 627.29 692.57 C627.46 694.58 627.62 696.59 627.79 698.59 C627.95 700.6 628.12 702.61 628.28 704.62 C628.44 706.62 628.6 708.63 628.76 710.64 C628.92 712.65 629.07 714.65 629.23 716.66 C629.38 718.67 629.53 720.68 629.69 722.68 C629.84 724.69 629.99 726.7 630.14 728.71 C630.28 730.71 630.43 732.72 630.58 734.73 C630.72 736.74 630.87 738.74 631.01 740.75 C631.15 742.76 631.29 744.77 631.43 746.77 C631.57 748.78 631.7 750.79 631.84 752.8 C631.98 754.8 632.11 756.81 632.24 758.82 C632.37 760.83 632.51 762.83 632.63 764.84 C632.76 766.85 632.89 768.86 633.02 770.86 C633.14 772.87 633.27 774.88 633.39 776.89 C633.52 778.89 633.64 780.9 633.76 782.91 C633.88 784.92 634 786.92 634.11 788.93 C634.23 790.94 634.35 792.95 634.46 794.95 C634.58 796.96 634.69 798.97 634.8 800.98 C634.91 802.98 635.02 804.99 635.13 807 C635.24 809.01 635.34 811.02 635.45 813.02 C635.55 815.03 635.66 817.04 635.76 819.05 C635.86 821.05 635.96 823.06 636.06 825.07 C636.16 827.08 636.26 829.08 636.36 831.09 C636.45 833.1 636.55 835.11 636.64 837.11 C636.74 839.12 636.83 841.13 636.92 843.14 C637.01 845.14 637.1 847.15 637.19 849.16 C637.28 851.17 637.37 853.17 637.45 855.18 C637.54 857.19 637.62 859.2 637.7 861.2 C637.79 863.21 637.87 865.22 637.95 867.23 C638.03 869.23 638.11 871.24 638.18 873.25 C638.26 875.26 638.34 877.26 638.41 879.27 C638.49 881.28 638.56 883.29 638.63 885.29 C638.7 887.3 638.77 889.31 638.84 891.32 C638.91 893.32 638.98 895.33 639.05 897.34 C639.11 899.35 639.18 901.35 639.24 903.36 C639.31 905.37 639.37 907.38 639.43 909.38 C639.49 911.39 639.55 913.4 639.61 915.41 C639.67 917.41 639.73 919.42 639.78 921.43 C639.84 923.44 639.9 925.44 639.95 927.45 C640 929.46 640.06 931.47 640.11 933.47 C640.16 935.48 640.21 937.49 640.26 939.5 C640.31 941.5 640.36 943.51 640.4 945.52 C640.45 947.53 640.49 949.53 640.54 951.54 C640.58 953.55 640.62 955.56 640.67 957.56 C640.71 959.57 640.75 961.58 640.79 963.59 C640.83 965.59 640.86 967.6 640.9 969.61 C640.94 971.62 640.97 973.62 641.01 975.63 C641.04 977.64 641.08 979.65 641.11 981.65 C641.14 983.66 641.17 985.67 641.2 987.68 C641.23 989.68 641.26 991.69 641.29 993.7 C641.32 995.71 641.34 997.72 641.37 999.72 C641.39 1001.73 641.42 1003.74 641.44 1005.75 C641.47 1007.75 641.49 1009.76 641.51 1011.77 C641.53 1013.78 641.55 1015.78 641.57 1017.79 C641.59 1019.8 641.61 1021.81 641.62 1023.81 C641.64 1025.82 641.65 1027.83 641.67 1029.84 C641.68 1031.84 641.7 1033.85 641.71 1035.86 C641.72 1037.87 641.73 1039.87 641.74 1041.88 C641.75 1043.89 641.76 1045.9 641.77 1047.9 C641.78 1049.91 641.79 1051.92 641.79 1053.93 C641.8 1055.93 641.8 1057.94 641.81 1059.95 C641.81 1061.96 641.82 1063.96 641.82 1065.97 C641.82 1067.98 641.82 1069.99 641.82 1071.99 C641.82 1074 641.82 1076.01 641.82 1078.02 C641.82 1080.02 641.81 1082.03 641.81 1084.04 C641.81 1086.05 641.8 1088.05 641.8 1090.06 C641.79 1092.07 641.78 1094.08 641.78 1096.08 C641.77 1098.09 641.76 1100.1 641.75 1102.11 C641.74 1104.11 641.73 1106.12 641.72 1108.13 C641.71 1110.14 641.7 1112.14 641.68 1114.15 C641.67 1116.16 641.66 1118.17 641.64 1120.17 C641.63 1122.18 641.61 1124.19 641.59 1126.2 C641.58 1128.2 641.56 1130.21 641.54 1132.22 C641.52 1134.23 641.5 1136.23 641.48 1138.24 C641.46 1140.25 641.44 1142.26 641.42 1144.26 C641.4 1146.27 641.37 1148.28 641.35 1150.29 C641.33 1152.29 641.3 1154.3 641.28 1156.31 C641.25 1158.32 641.22 1160.32 641.2 1162.33 C641.17 1164.34 641.14 1166.35 641.11 1168.35 C641.08 1170.36 641.05 1172.37 641.02 1174.38 C640.99 1176.38 640.95 1179.4 640.93 1180.4 C640 1215 624.1 1253 614.5 1280" fill="none" stroke="#111" stroke-width="1.7"/>
<path d="M632.02 616.5 C632.13 617.5 632.45 620.5 632.67 622.5 C632.88 624.5 633.09 626.5 633.29 628.5 C633.5 630.5 633.71 632.5 633.91 634.5 C634.11 636.5 634.31 638.5 634.51 640.5 C634.7 642.5 634.9 644.5 635.09 646.49 C635.28 648.49 635.48 650.49 635.66 652.49 C635.85 654.49 636.04 656.49 636.22 658.49 C636.41 660.49 636.59 662.49 636.77 664.49 C636.95 666.49 637.12 668.49 637.3 670.49 C637.48 672.49 637.65 674.49 637.82 676.49 C637.99 678.49 638.16 680.49 638.33 682.49 C638.5 684.49 638.66 686.49 638.83 688.49 C638.99 690.49 639.15 692.49 639.31 694.49 C639.47 696.49 639.63 698.49 639.79 700.49 C639.94 702.48 640.1 704.48 640.25 706.48 C640.4 708.48 640.55 710.48 640.7 712.48 C640.85 714.48 641 716.48 641.15 718.48 C641.29 720.48 641.44 722.48 641.58 724.48 C641.72 726.48 641.86 728.48 642 730.48 C642.14 732.48 642.28 734.48 642.42 736.48 C642.55 738.48 642.69 740.48 642.82 742.48 C642.96 744.48 643.09 746.48 643.22 748.48 C643.35 750.48 643.48 752.48 643.61 754.48 C643.74 756.48 643.86 758.47 643.99 760.47 C644.11 762.47 644.24 764.47 644.36 766.47 C644.48 768.47 644.6 770.47 644.72 772.47 C644.84 774.47 644.96 776.47 645.07 778.47 C645.19 780.47 645.31 782.47 645.42 784.47 C645.54 786.47 645.65 788.47 645.76 790.47 C645.87 792.47 645.98 794.47 646.09 796.47 C646.2 798.47 646.31 800.47 646.42 802.47 C646.53 804.47 646.63 806.47 646.74 808.47 C646.84 810.47 646.94 812.47 647.05 814.46 C647.15 816.46 647.25 818.46 647.35 820.46 C647.45 822.46 647.55 824.46 647.65 826.46 C647.75 828.46 647.84 830.46 647.94 832.46 C648.03 834.46 648.13 836.46 648.22 838.46 C648.32 840.46 648.41 842.46 648.5 844.46 C648.59 846.46 648.68 848.46 648.77 850.46 C648.86 852.46 648.95 854.46 649.04 856.46 C649.12 858.46 649.21 860.46 649.3 862.46 C649.38 864.46 649.46 866.46 649.55 868.46 C649.63 870.45 649.71 872.45 649.79 874.45 C649.88 876.45 649.96 878.45 650.03 880.45 C650.11 882.45 650.19 884.45 650.27 886.45 C650.35 888.45 650.42 890.45 650.5 892.45 C650.57 894.45 650.65 896.45 650.72 898.45 C650.79 900.45 650.86 902.45 650.93 904.45 C651.01 906.45 651.08 908.45 651.14 910.45 C651.21 912.45 651.28 914.45 651.35 916.45 C651.42 918.45 651.48 920.45 651.55 922.45 C651.61 924.45 651.68 926.45 651.74 928.44 C651.8 930.44 651.86 932.44 651.92 934.44 C651.98 936.44 652.04 938.44 652.1 940.44 C652.16 942.44 652.22 944.44 652.28 946.44 C652.33 948.44 652.39 950.44 652.44 952.44 C652.5 954.44 652.55 956.44 652.6 958.44 C652.66 960.44 652.71 962.44 652.76 964.44 C652.81 966.44 652.86 968.44 652.9 970.44 C652.95 972.44 653 974.44 653.05 976.44 C653.09 978.44 653.14 980.44 653.18 982.44 C653.22 984.43 653.26 986.43 653.31 988.43 C653.35 990.43 653.39 992.43 653.43 994.43 C653.46 996.43 653.5 998.43 653.54 1000.43 C653.57 1002.43 653.61 1004.43 653.64 1006.43 C653.68 1008.43 653.71 1010.43 653.74 1012.43 C653.77 1014.43 653.8 1016.43 653.83 1018.43 C653.86 1020.43 653.89 1022.43 653.91 1024.43 C653.94 1026.43 653.96 1028.43 653.99 1030.43 C654.01 1032.43 654.03 1034.43 654.05 1036.43 C654.07 1038.43 654.09 1040.42 654.11 1042.42 C654.13 1044.42 654.14 1046.42 654.16 1048.42 C654.17 1050.42 654.19 1052.42 654.2 1054.42 C654.21 1056.42 654.22 1058.42 654.23 1060.42 C654.24 1062.42 654.24 1064.42 654.25 1066.42 C654.26 1068.42 654.26 1070.42 654.26 1072.42 C654.26 1074.42 654.26 1076.42 654.26 1078.42 C654.26 1080.42 654.26 1082.42 654.26 1084.42 C654.25 1086.42 654.25 1088.42 654.24 1090.42 C654.23 1092.42 654.22 1094.42 654.21 1096.41 C654.2 1098.41 654.18 1100.41 654.17 1102.41 C654.15 1104.41 654.14 1106.41 654.12 1108.41 C654.1 1110.41 654.08 1112.41 654.05 1114.41 C654.03 1116.41 654.01 1118.41 653.98 1120.41 C653.95 1122.41 653.92 1124.41 653.89 1126.41 C653.86 1128.41 653.83 1130.41 653.79 1132.41 C653.76 1134.41 653.72 1136.41 653.68 1138.41 C653.64 1140.41 653.6 1142.41 653.56 1144.41 C653.51 1146.41 653.47 1148.41 653.42 1150.41 C653.37 1152.4 653.32 1154.4 653.27 1156.4 C653.21 1158.4 653.16 1160.4 653.1 1162.4 C653.04 1164.4 652.98 1166.4 652.92 1168.4 C652.85 1170.4 652.79 1172.4 652.72 1174.4 C652.65 1176.4 652.54 1179.4 652.51 1180.4 C651.6 1212 636.9 1251.3 625.2 1280.7" fill="none" stroke="#111" stroke-width="1.7"/>
<path d="M641.1 1180.4L652.4 1180.4" stroke="#111" stroke-width="1.5"/>
<path d="M614.5 1280.2L625.2 1280.7" stroke="#111" stroke-width="1.5"/>
<path d="M625.2 1280.7 Q616 1287.5 604 1290.8" fill="none" stroke="#111" stroke-width="1.5"/>
<path d="M614.5 1280.7L603.9 1290.8" stroke="#111" stroke-width="1.3"/>
<path d="M313 1284 C314.12 1284.45 316.82 1285.82 319.7 1286.7 C322.58 1287.58 323.2 1287.52 330.3 1289.3 C337.4 1291.08 351.6 1294.7 362.3 1297.4 C373 1300.1 383.75 1303.35 394.5 1305.5 C405.25 1307.65 416.05 1309.22 426.8 1310.3 C437.55 1311.38 448.25 1311.83 459 1312 C469.75 1312.17 480.55 1311.97 491.3 1311.3 C502.05 1310.63 512.75 1309.5 523.5 1308 C534.25 1306.5 545.05 1304.43 555.8 1302.3 C566.55 1300.17 580.32 1297.12 588 1295.2 C595.68 1293.28 599.58 1291.53 601.9 1290.8" fill="none" stroke="#111" stroke-width="1.7"/>
<path d="M297.5 377 Q336 373.5 374.5 377 A175.5 175.5 0 0 0 675.6 499.57 L806.91 365.02 A45 45 0 0 1 862.01 418.8 L730.71 553.35 A252.5 252.5 0 0 1 297.5 377 Z" fill="#fff" stroke="#111" stroke-width="1.8"/>
<path d="M675.6 499.57 Q704.9 524.67 730.71 553.35" fill="none" stroke="#111" stroke-width="1.7"/>
<path d="M806.91 365.02L862.01 418.8" stroke="#111" stroke-width="1.7"/>
<path d="M53.6 60.1L53.6 1273.1" stroke="#111" stroke-width="2.3"/>
<path d="M53.6 40.1 L64.8 66.6 Q59.2 65.45 53.6 61.3 Q48 65.45 42.4 66.6 Z" fill="#111"/>
<path d="M53.6 1293.1 L42.4 1266.6 Q48 1267.75 53.6 1271.9 Q59.2 1267.75 64.8 1266.6 Z" fill="#111"/>
<path d="M158 1062.4L158 1249.1" stroke="#111" stroke-width="2.3"/>
<path d="M158 1042.4 L169.2 1068.9 Q163.6 1067.75 158 1063.6 Q152.4 1067.75 146.8 1068.9 Z" fill="#111"/>
<path d="M158 1269.1 L146.8 1242.6 Q152.4 1243.75 158 1247.9 Q163.6 1243.75 169.2 1242.6 Z" fill="#111"/>
<path d="M374.2 1388.6L568.4 1388.6" stroke="#111" stroke-width="2.3"/>
<path d="M354.2 1388.6 L380.7 1377.4 Q379.55 1383 375.4 1388.6 Q379.55 1394.2 380.7 1399.8 Z" fill="#111"/>
<path d="M588.4 1388.6 L561.9 1399.8 Q563.05 1394.2 567.2 1388.6 Q563.05 1383 561.9 1377.4 Z" fill="#111"/>
<path d="M283 1478L615.4 1478" stroke="#111" stroke-width="2.3"/>
<path d="M263 1478 L289.5 1466.8 Q288.35 1472.4 284.2 1478 Q288.35 1483.6 289.5 1489.2 Z" fill="#111"/>
<path d="M635.4 1478 L608.9 1489.2 Q610.05 1483.6 614.2 1478 Q610.05 1472.4 608.9 1466.8 Z" fill="#111"/>
<path d="M495.83 1113.05L763.37 852.65" stroke="#111" stroke-width="2.3"/>
<path d="M481.5 1127 L492.68 1100.49 Q495.76 1105.31 496.69 1112.21 Q503.57 1113.33 508.3 1116.54 Z" fill="#111"/>
<path d="M777.7 838.7 L766.52 865.21 Q763.44 860.39 762.51 853.49 Q755.63 852.37 750.9 849.16 Z" fill="#111"/>
<g opacity="0.999">
<text font-family="Liberation Sans, sans-serif" font-size="46.5" fill="#111" transform="translate(389.3 1367.9) scale(0.8620 0.9909)">5</text>
<text font-family="Liberation Sans, sans-serif" font-size="46.5" fill="#111" transform="translate(417.32 1367.9) scale(0.9608 0.9909)">c</text>
<text font-family="Liberation Sans, sans-serif" font-size="46.5" fill="#111" transform="translate(442.77 1367.9) scale(0.9541 0.9909)">m</text>
<text font-family="Liberation Sans, sans-serif" font-size="46.5" fill="#111" transform="translate(492.9 1367.9) scale(1.1604 0.9909)">/</text>
<text font-family="Liberation Sans, sans-serif" font-size="46.5" fill="#111" transform="translate(518.65 1367.9) scale(1.0092 0.9909)">2</text>
<path d="M549.39 1334.5 L551.73 1334.5 L547.04 1345.3 L545.8 1345.3 Z M557.25 1334.5 L559.6 1334.5 L554.91 1345.3 L553.67 1345.3 Z" fill="#111" stroke="#111" stroke-width="0.6" stroke-linejoin="round"/>
<path d="M380.4 1438.4 L388.4 1433.4 L388.4 1464.6" fill="none" stroke="#111" stroke-width="3.7" stroke-linejoin="miter"/>
<path d="M406.2 1438.4 L414.2 1433.4 L414.2 1464.6" fill="none" stroke="#111" stroke-width="3.7" stroke-linejoin="miter"/>
<text font-family="Liberation Sans, sans-serif" font-size="46.5" fill="#111" transform="translate(427.88 1464.6) scale(0.9807 1.0128)">c</text>
<text font-family="Liberation Sans, sans-serif" font-size="46.5" fill="#111" transform="translate(452.82 1464.6) scale(1.0032 1.0128)">m</text>
<text font-family="Liberation Sans, sans-serif" font-size="46.5" fill="#111" transform="translate(501.9 1464.6) scale(1.2145 1.0128)">/</text>
<text font-family="Liberation Sans, sans-serif" font-size="46.5" fill="#111" transform="translate(529.15 1464.6) scale(0.9891 1.0128)">3</text>
<path d="M560.07 1430.7 L562.53 1430.7 L557.6 1442 L556.3 1442 Z M568.33 1430.7 L570.8 1430.7 L565.87 1442 L564.56 1442 Z" fill="#111" stroke="#111" stroke-width="0.6" stroke-linejoin="round"/>
<text font-family="Liberation Sans, sans-serif" font-size="46.5" fill="#111" transform="translate(40.6 712.35) rotate(-90) scale(0.9244 1.0221)">2</text>
<text font-family="Liberation Sans, sans-serif" font-size="46.5" fill="#111" transform="translate(40.6 687.82) rotate(-90) scale(0.9796 1.0221)">6</text>
<text font-family="Liberation Sans, sans-serif" font-size="46.5" fill="#111" transform="translate(40.6 651.22) rotate(-90) scale(0.8811 1.0221)">c</text>
<text font-family="Liberation Sans, sans-serif" font-size="46.5" fill="#111" transform="translate(40.6 628.9) rotate(-90) scale(1.0431 1.0221)">m</text>
<path d="M74 679 L69 671.1 L100 671.1" fill="none" stroke="#111" stroke-width="3.7" stroke-linejoin="miter"/>
<text font-family="Liberation Sans, sans-serif" font-size="46.5" fill="#111" transform="translate(100 659.04) rotate(-90) scale(0.9583 1.0065)">0</text>
<path d="M65.1 627.98 L65.1 625.48 L77.4 630.48 L77.4 631.8 Z M65.1 619.6 L65.1 617.1 L77.4 622.1 L77.4 623.42 Z" fill="#111" stroke="#111" stroke-width="0.6" stroke-linejoin="round"/>
<text font-family="Liberation Sans, sans-serif" font-size="46.5" fill="#111" transform="translate(144.6 1213.21) rotate(-90) scale(0.9473 0.9815)">4</text>
<text font-family="Liberation Sans, sans-serif" font-size="46.5" fill="#111" transform="translate(144.6 1177.12) rotate(-90) scale(0.8811 0.9815)">c</text>
<text font-family="Liberation Sans, sans-serif" font-size="46.5" fill="#111" transform="translate(144.6 1153.86) rotate(-90) scale(1.0308 0.9815)">m</text>
<text font-family="Liberation Sans, sans-serif" font-size="46.5" fill="#111" transform="translate(204.5 1185.23) rotate(-90) scale(0.9574 1.0096)">2</text>
<path d="M169.6 1154.4 L169.6 1152.24 L181 1156.56 L181 1157.7 Z M169.6 1147.16 L169.6 1145 L181 1149.32 L181 1150.46 Z" fill="#111" stroke="#111" stroke-width="0.6" stroke-linejoin="round"/>
<path d="M742.6 800 L755.6 786.6 L766.6 818.8" fill="none" stroke="#111" stroke-width="2.8" stroke-linejoin="miter"/>
<circle cx="744.5" cy="824.8" r="10.4" fill="none" stroke="#111" stroke-width="2.6"/>
<path d="M741.7 809.8L746.8 839.6" stroke="#111" stroke-width="2.2"/>
</g>
</svg>
</body></html>
